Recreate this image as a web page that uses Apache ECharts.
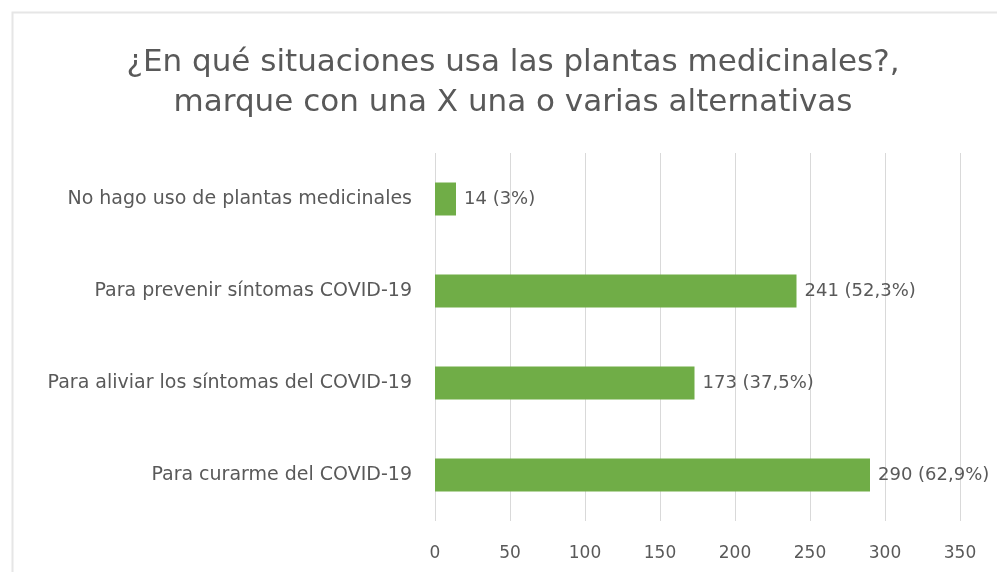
<!DOCTYPE html>
<html>
<head>
<meta charset="utf-8">
<script src="https://cdn.jsdelivr.net/npm/echarts@6/dist/echarts.min.js"></script>
<style>
  html, body { margin: 0; padding: 0; background: #ffffff; }
  #chart { width: 997px; height: 578px; }
</style>
</head>
<body>
<div id="chart"></div>
<script>
const titleText = "¿En qué situaciones usa las plantas medicinales?,\nmarque con una X una o varias alternativas";
const categories = [
  "No hago uso de plantas medicinales",
  "Para prevenir síntomas COVID-19",
  "Para aliviar los síntomas del COVID-19",
  "Para curarme del COVID-19"
];
const counts = [14, 241, 173, 290];
const percents = ["3%", "52,3%", "37,5%", "62,9%"];
const xTicks = [0, 50, 100, 150, 200, 250, 300, 350];

const chart = echarts.init(document.getElementById('chart'), null, { renderer: 'canvas' });
chart.setOption({
  backgroundColor: '#ffffff',
  animation: false,
  graphic: [{
    type: 'polyline',
    shape: { points: [[12.5, 572], [12.5, 12.5], [997, 12.5]] },
    style: { fill: 'none', stroke: '#e6e6e6', lineWidth: 2 },
    silent: true
  }],
  title: {
    text: titleText,
    left: 508,
    textAlign: 'center',
    top: 38,
    textStyle: {
      fontFamily: 'DejaVu Sans',
      fontSize: 31,
      fontWeight: 'normal',
      color: '#595959',
      lineHeight: 40
    }
  },
  grid: { left: 435, right: 37, top: 153, bottom: 57, containLabel: false },
  xAxis: {
    type: 'value',
    min: xTicks[0],
    max: xTicks[xTicks.length - 1],
    interval: 50,
    axisLine: { show: false },
    axisTick: { show: false },
    splitLine: { show: true, lineStyle: { color: '#d9d9d9', width: 1 } },
    axisLabel: {
      margin: 24,
      fontFamily: 'DejaVu Sans',
      fontSize: 17,
      color: '#595959'
    }
  },
  yAxis: {
    type: 'category',
    data: categories,
    inverse: true,
    axisLine: { show: false },
    axisTick: { show: false },
    splitLine: { show: false },
    axisLabel: {
      margin: 23,
      fontFamily: 'DejaVu Sans',
      fontSize: 19,
      color: '#595959'
    }
  },
  series: [{
    type: 'bar',
    data: counts,
    barWidth: 33,
    itemStyle: { color: '#70ad47' },
    label: {
      show: true,
      position: 'right',
      distance: 8,
      fontFamily: 'DejaVu Sans',
      fontSize: 18,
      color: '#595959',
      formatter: function (p) { return counts[p.dataIndex] + ' (' + percents[p.dataIndex] + ')'; }
    }
  }]
});
</script>
</body>
</html>
